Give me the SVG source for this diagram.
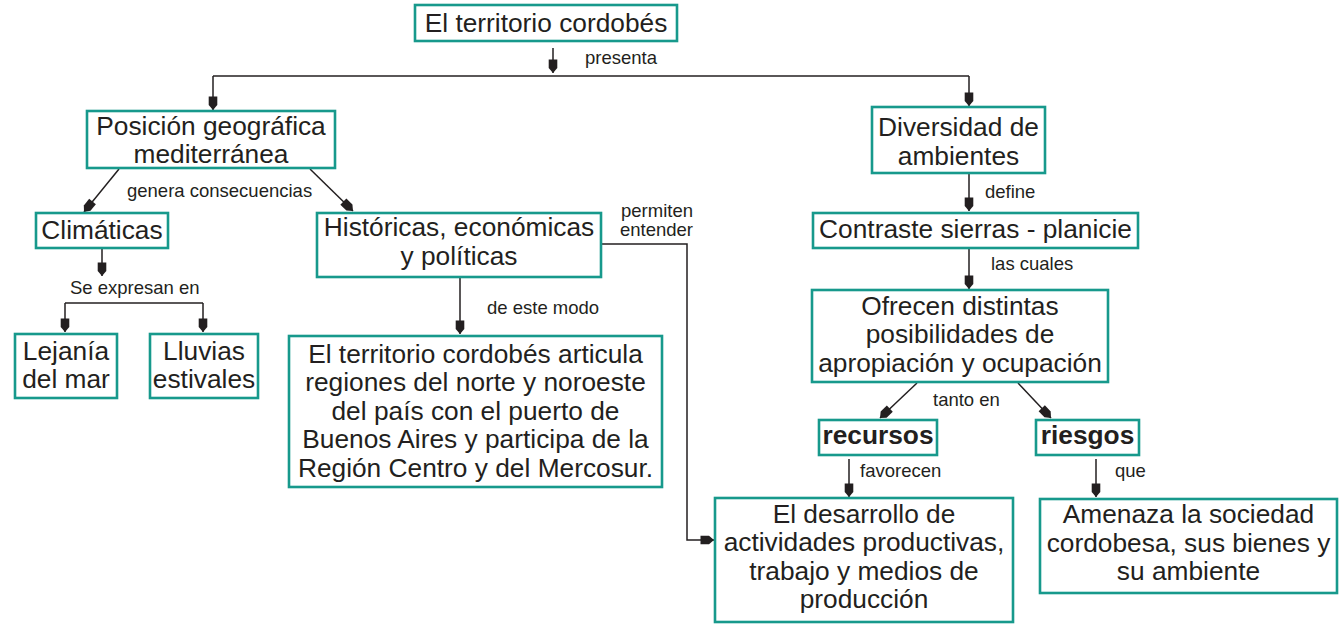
<svg xmlns="http://www.w3.org/2000/svg" width="1341" height="624" viewBox="0 0 1341 624">
<style>
.box{fill:#fff;stroke:#17998c;stroke-width:2.6}
.t{font-family:"Liberation Sans",Arial,sans-serif;font-size:26.3px;fill:#231f20;text-anchor:middle}
.b{font-weight:bold}
.l{font-family:"Liberation Sans",Arial,sans-serif;font-size:18.5px;fill:#231f20}
.c{fill:none;stroke:#231f20;stroke-width:1.5}
</style>
<defs>
<marker id="ah" markerUnits="userSpaceOnUse" viewBox="-15 -6 16 12" refX="0" refY="0" markerWidth="16" markerHeight="12" orient="auto">
<path d="M0,0 L-5,-4.3 L-13.5,-4.3 L-13.5,4.3 L-5,4.3 Z" fill="#231f20"/>
</marker>
</defs>
<rect width="1341" height="624" fill="#fff"/>
<g id="connectors">
<path class="c" d="M553,48 V73" marker-end="url(#ah)"/>
<path class="c" d="M213,76 H969"/>
<path class="c" d="M213,76 V110" marker-end="url(#ah)"/>
<path class="c" d="M969,76 V106" marker-end="url(#ah)"/>
<path class="c" d="M119,169 L84,212" marker-end="url(#ah)"/>
<path class="c" d="M310,169 L353,211" marker-end="url(#ah)"/>
<path class="c" d="M102,248 V276" marker-end="url(#ah)"/>
<path class="c" d="M65,303 H203"/>
<path class="c" d="M65,303 V332" marker-end="url(#ah)"/>
<path class="c" d="M203,303 V332" marker-end="url(#ah)"/>
<path class="c" d="M460,277 V334" marker-end="url(#ah)"/>
<path class="c" d="M601,244 H687 V540 H714" marker-end="url(#ah)"/>
<path class="c" d="M969,173 V211" marker-end="url(#ah)"/>
<path class="c" d="M969,248 V289" marker-end="url(#ah)"/>
<path class="c" d="M917,383 L880,418" marker-end="url(#ah)"/>
<path class="c" d="M1018,383 L1051,418" marker-end="url(#ah)"/>
<path class="c" d="M849,459 V497" marker-end="url(#ah)"/>
<path class="c" d="M1096,459 V497" marker-end="url(#ah)"/>
<text class="l" x="585" y="64">presenta</text>
<text class="l" x="127" y="197">genera consecuencias</text>
<text class="l" x="70" y="294">Se expresan en</text>
<text class="l" x="621" y="217">permiten</text>
<text class="l" x="620" y="236">entender</text>
<text class="l" x="487" y="314">de este modo</text>
<text class="l" x="985" y="198">define</text>
<text class="l" x="991" y="270">las cuales</text>
<text class="l" x="933" y="406">tanto en</text>
<text class="l" x="860" y="477">favorecen</text>
<text class="l" x="1115" y="477">que</text>
</g>
<g id="n-territorio"><rect class="box" x="415" y="5" width="262" height="36"/><text class="t" x="546" y="32">El territorio cordobés</text></g>
<g id="n-posicion"><rect class="box" x="87" y="111" width="248" height="57"/><text class="t" x="211" y="135">Posición geográfica</text><text class="t" x="211" y="163">mediterránea</text></g>
<g id="n-diversidad"><rect class="box" x="872" y="107" width="173" height="66"/><text class="t" x="958.5" y="136">Diversidad de</text><text class="t" x="958.5" y="165">ambientes</text></g>
<g id="n-climaticas"><rect class="box" x="36" y="213" width="132" height="35"/><text class="t" x="102" y="239">Climáticas</text></g>
<g id="n-historicas"><rect class="box" x="317" y="213" width="284" height="64"/><text class="t" x="459" y="236">Históricas, económicas</text><text class="t" x="459" y="264.5">y políticas</text></g>
<g id="n-lejania"><rect class="box" x="15" y="334" width="102" height="64"/><text class="t" x="66" y="360">Lejanía</text><text class="t" x="66" y="388">del mar</text></g>
<g id="n-lluvias"><rect class="box" x="150" y="334" width="108" height="64"/><text class="t" x="204" y="360">Lluvias</text><text class="t" x="204" y="388">estivales</text></g>
<g id="n-articula"><rect class="box" x="289" y="336" width="373" height="151"/><text class="t" x="475.5" y="363">El territorio cordobés articula</text><text class="t" x="475.5" y="391">regiones del norte y noroeste</text><text class="t" x="475.5" y="420">del país con el puerto de</text><text class="t" x="475.5" y="448">Buenos Aires y participa de la</text><text class="t" x="475.5" y="477">Región Centro y del Mercosur.</text></g>
<g id="n-contraste"><rect class="box" x="813" y="213" width="325" height="35"/><text class="t" x="975.5" y="238">Contraste sierras - planicie</text></g>
<g id="n-ofrecen"><rect class="box" x="812" y="290" width="296" height="92"/><text class="t" x="960" y="315">Ofrecen distintas</text><text class="t" x="960" y="343">posibilidades de</text><text class="t" x="960" y="372">apropiación y ocupación</text></g>
<g id="n-recursos"><rect class="box" x="819" y="420" width="118" height="35"/><text class="t b" x="878" y="444">recursos</text></g>
<g id="n-riesgos"><rect class="box" x="1036" y="420" width="103" height="35"/><text class="t b" x="1087.5" y="444">riesgos</text></g>
<g id="n-desarrollo"><rect class="box" x="715" y="498" width="298" height="124"/><text class="t" x="864" y="523">El desarrollo de</text><text class="t" x="864" y="551">actividades productivas,</text><text class="t" x="864" y="580">trabajo y medios de</text><text class="t" x="864" y="608">producción</text></g>
<g id="n-amenaza"><rect class="box" x="1040" y="499" width="297" height="94"/><text class="t" x="1188.5" y="523">Amenaza la sociedad</text><text class="t" x="1188.5" y="552">cordobesa, sus bienes y</text><text class="t" x="1188.5" y="580">su ambiente</text></g>
</svg>
